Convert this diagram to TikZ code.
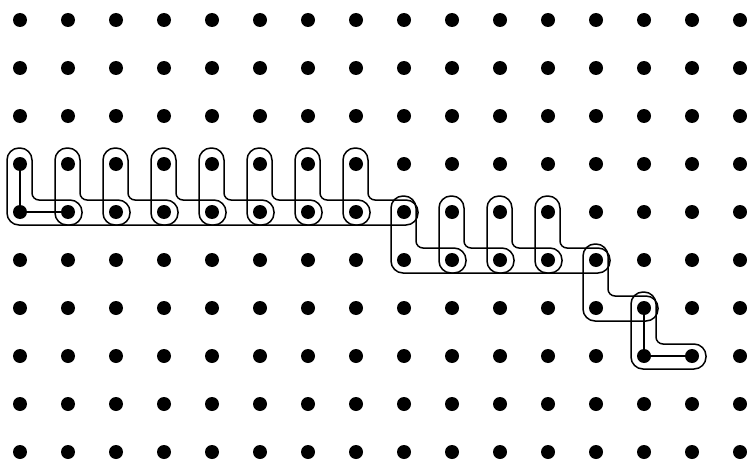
\documentclass[tikz,border=0pt]{standalone}
\begin{document}
\begin{tikzpicture}[x=1pt,y=-1pt,
  dot/.style={circle,fill=black,inner sep=0pt,minimum size=14pt},
  lshape/.style={line width=1.5pt,line join=round},
  link/.style={line width=1.4pt}]
\useasboundingbox (0,0) rectangle (747,460);
% L-shaped outlines
\foreach \c/\r in {0/3,1/3,2/3,3/3,4/3,5/3,6/3,7/3,8/4,9/4,10/4,11/4,12/5,13/6}{
  \pgfmathsetmacro\a{20+48*\c}
  \pgfmathsetmacro\b{20+48*\r}
  \draw[lshape,rounded corners=12pt] (\a-13,\b+20) -- (\a-13,\b-16) -- (\a+12,\b-16)
     [rounded corners=7pt]-- (\a+12,\b+36)
     [rounded corners=12pt]-- (\a+62,\b+36) -- (\a+62,\b+61) -- (\a-13,\b+61) -- cycle;
}
% dots
\foreach \i in {0,...,15}{
  \foreach \j in {0,...,9}{
    \node[dot] (d-\i-\j) at (20+48*\i,20+48*\j) {};
  }
}
% links
\draw[link] (d-0-3.center) -- (d-0-4.center) -- (d-1-4.center);
\draw[link] (d-13-6.center) -- (d-13-7.center) -- (d-14-7.center);
\end{tikzpicture}
\end{document}
